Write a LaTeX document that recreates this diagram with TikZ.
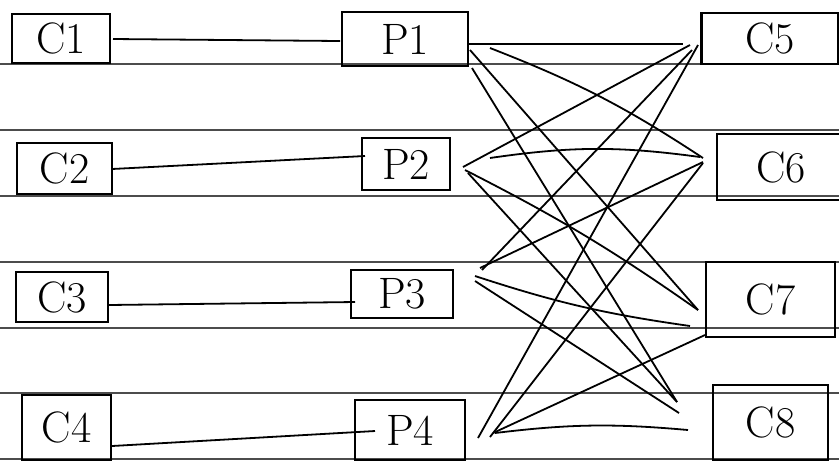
\documentclass[tikz,border=0pt]{standalone}
\begin{document}
\begin{tikzpicture}[x=0.5pt,y=-0.5pt,
  box/.style={draw, line width=1.3pt, inner sep=0pt, font=\fontsize{22}{22}\selectfont},
  ruleline/.style={draw=black!70, line width=0.7pt},
  link/.style={line width=0.9pt}]
\useasboundingbox (0,0) rectangle (839,463);
\foreach \y in {64,130,196,262,328,393,459} \draw[ruleline] (0,\y) -- (839,\y);
% boxes
\node[box, minimum width=49pt, minimum height=24.5pt] (C1) at (61,38.5) {C1};
\node[box, minimum width=63pt, minimum height=27pt] (P1) at (405,39) {P1};
\node[box, minimum width=68.5pt, minimum height=25.5pt] (C5) at (770,38.5) {C5};
\node[box, minimum width=47.5pt, minimum height=25.5pt] (C2) at (64.5,168.5) {C2};
\node[box, minimum width=44pt, minimum height=26pt] (P2) at (406,164) {P2};
\node[box, minimum width=64pt, minimum height=33pt] (C6) at (781,167) {C6};
\node[box, minimum width=46pt, minimum height=25pt] (C3) at (62,297) {C3};
\node[box, minimum width=51pt, minimum height=24pt] (P3) at (402,294) {P3};
\node[box, minimum width=64.5pt, minimum height=37.5pt] (C7) at (770.5,299.5) {C7};
\node[box, minimum width=44.5pt, minimum height=32.5pt] (C4) at (66.5,427.5) {C4};
\node[box, minimum width=55pt, minimum height=30pt] (P4) at (410,430) {P4};
\node[box, minimum width=57.5pt, minimum height=37.5pt] (C8) at (770.5,422.5) {C8};
% connector end points
\coordinate (c1o) at (113,39);  \coordinate (p1i) at (340,41);
\coordinate (c2o) at (112,169); \coordinate (p2i) at (365,156);
\coordinate (c3o) at (108,305); \coordinate (p3i) at (355,302);
\coordinate (c4o) at (112,446); \coordinate (p4i) at (375,431);
\draw[link] (c1o) -- (p1i);
\draw[link] (c2o) -- (p2i);
\draw[link] (c3o) -- (p3i);
\draw[link] (c4o) -- (p4i);
% P1 outputs
\coordinate (p1c5) at (468,44); \coordinate (c5p1) at (683,44);
\coordinate (p1c6) at (490,48); \coordinate (c6p1) at (703,158);
\coordinate (p1c7) at (470,50); \coordinate (c7p1) at (698,310);
\coordinate (p1c8) at (472,68); \coordinate (c8p1) at (677,402);
% P2 outputs
\coordinate (p2c5) at (463,167); \coordinate (c5p2) at (690,45);
\coordinate (p2c6) at (490,158); \coordinate (c6p2) at (700,157);
\coordinate (p2c7) at (465,170); \coordinate (c7p2) at (698,310);
\coordinate (p2c8) at (468,173); \coordinate (c8p2) at (677,402);
% P3 outputs
\coordinate (p3c5) at (482,270); \coordinate (c5p3) at (692,50);
\coordinate (p3c6) at (480,268); \coordinate (c6p3) at (703,162);
\coordinate (p3c7) at (475,276); \coordinate (c7p3) at (690,326);
\coordinate (p3c8) at (475,281); \coordinate (c8p3) at (679,413);
% P4 outputs
\coordinate (p4c5) at (478,438); \coordinate (c5p4) at (698,45);
\coordinate (p4c6) at (490,437); \coordinate (c6p4) at (703,163);
\coordinate (p4c7) at (493,433); \coordinate (c7p4) at (705,335);
\coordinate (p4c8) at (495,433); \coordinate (c8p4) at (688,430);
\draw[link] (p1c5) -- (c5p1);
\draw[link] (p1c6) to[bend left=6] (c6p1);
\draw[link] (p1c7) -- (c7p1);
\draw[link] (p1c8) -- (c8p1);
\draw[link] (p2c5) -- (c5p2);
\draw[link] (p2c6) to[bend left=8] (c6p2);
\draw[link] (p2c7) to[bend left=4] (c7p2);
\draw[link] (p2c8) -- (c8p2);
\draw[link] (p3c5) -- (c5p3);
\draw[link] (p3c6) -- (c6p3);
\draw[link] (p3c7) to[bend right=5] (c7p3);
\draw[link] (p3c8) -- (c8p3);
\draw[link] (p4c5) -- (c5p4);
\draw[link] (p4c6) -- (c6p4);
\draw[link] (p4c7) -- (c7p4);
\draw[link] (p4c8) to[bend left=6] (c8p4);
\end{tikzpicture}
\end{document}
